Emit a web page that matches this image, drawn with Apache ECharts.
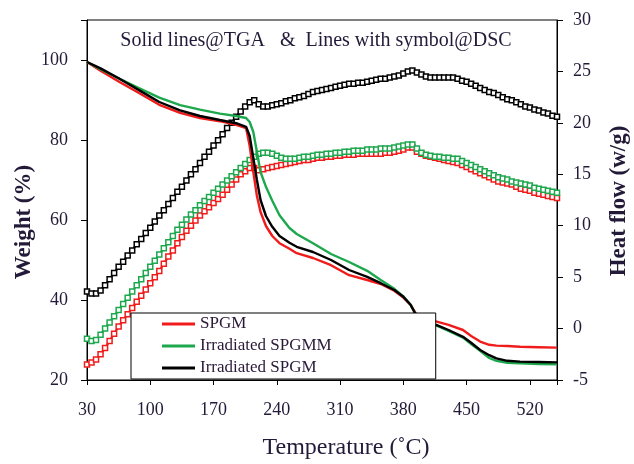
<!DOCTYPE html>
<html>
<head>
<meta charset="utf-8">
<script src="https://cdn.jsdelivr.net/npm/echarts@6/dist/echarts.min.js"></script>
<style>
html,body{margin:0;padding:0;background:#fff;}
#chart{width:634px;height:464px;}
</style>
</head>
<body>
<div id="chart"></div>
<script>
// ---- data ----
var seriesNames = ['SPGM', 'Irradiated SPGMM', 'Irradiated SPGM'];
var xTickLabels = [30, 100, 170, 240, 310, 380, 450, 520];

// TGA (weight %, left axis)
var tgaTemps = [30,45,66,88,110,133,155,177,195,206,210,214,218,222,228,235,243,254,262,280,300,320,340,355,370,380,388,395,405,417,430,446,455,465,475,483,495,509,530,550];
var tgaSPGM = [99.5,97.3,94.5,91.7,88.8,86.8,85.5,84.7,83.8,83,78.5,72,66,62,58.5,56,54.2,52.8,51.7,50.5,48.7,46.2,45,44,42.3,40.6,38.8,36.2,35.2,34.6,33.8,32.5,31,29.6,28.8,28.6,28.5,28.3,28.2,28.1];
var tgaIrrSPGMM = [99.5,97.7,95.3,92.9,90.6,88.7,87.6,86.6,86,85.5,84.5,82,77,72,68.3,64.8,61.2,58,56.5,54.2,51.5,49.5,47.3,45,42.8,40.9,38.8,35.8,34.5,33.6,32.3,30.6,29,27.3,25.5,24.8,24.3,24.2,24,23.9];
var tgaIrrSPGM = [99.5,97.9,95.3,92.4,89.5,87.4,86,85,84.2,83.3,81,75.5,70,65,61,58.3,56,54.3,53.3,52,50,47.5,45.8,44.2,42.5,40.8,38.8,35.8,34.5,33.7,32.5,30.8,29.3,27.5,26.2,25.4,24.8,24.6,24.5,24.4];

// DSC (heat flow w/g, right axis)
var dscTemps = [
 30,35,40,45,50,55,60,65,70,75,
 80,85,90,95,100,105,110,115,120,125,
 130,135,140,145,150,155,160,165,170,175,
 180,185,190,195,200,205,210,215,220,225,
 230,235,240,245,250,255,260,265,270,275,
 280,285,290,295,300,305,310,315,320,325,
 330,335,340,345,350,355,360,365,370,375,
 380,385,390,395,400,405,410,415,420,425,
 430,435,440,445,450,455,460,465,470,475,
 480,485,490,495,500,505,510,515,520,525,
 530,535,540,545,550];
var dscSPGM = [
 -3.5,-3.3,-3.0,-2.5,-1.9,-1.2,-0.5,0.2,0.8,1.4,
 2.0,2.6,3.2,3.8,4.4,5.0,5.6,6.3,7.0,7.6,
 8.3,8.9,9.5,10.0,10.5,11.0,11.4,11.8,12.2,12.6,
 13.0,13.5,14.0,14.5,15.0,15.3,15.6,15.6,15.4,15.5,
 15.6,15.7,15.8,15.9,16.0,16.1,16.2,16.3,16.4,16.4,
 16.5,16.6,16.6,16.7,16.7,16.8,16.8,16.9,16.9,16.9,
 17.0,17.0,17.0,17.0,17.0,17.0,17.1,17.1,17.2,17.3,
 17.4,17.6,17.6,17.2,17.0,16.8,16.7,16.6,16.5,16.4,
 16.3,16.2,16.1,15.9,15.7,15.5,15.3,15.1,14.9,14.7,
 14.5,14.3,14.2,14.1,14.0,13.8,13.6,13.5,13.4,13.2,
 13.1,13.0,12.9,12.8,12.7];
var dscIrrSPGMM = [
 -1.0,-1.2,-1.1,-0.6,0.0,0.6,1.2,1.8,2.4,3.0,
 3.6,4.2,4.8,5.4,6.0,6.6,7.2,7.8,8.4,9.0,
 9.6,10.1,10.6,11.1,11.5,12.0,12.4,12.8,13.2,13.6,
 14.0,14.4,14.8,15.2,15.6,16.0,16.4,16.7,17.0,17.1,
 17.1,17.0,16.8,16.6,16.5,16.5,16.5,16.6,16.7,16.7,
 16.8,16.9,16.9,17.0,17.0,17.1,17.1,17.2,17.2,17.3,
 17.3,17.3,17.4,17.4,17.4,17.5,17.5,17.5,17.6,17.7,
 17.8,17.9,17.9,17.5,17.1,16.9,16.8,16.7,16.7,16.6,
 16.6,16.5,16.5,16.3,16.1,15.9,15.7,15.5,15.3,15.1,
 14.9,14.7,14.6,14.5,14.3,14.2,14.1,14.0,13.9,13.7,
 13.6,13.5,13.4,13.3,13.2];
var dscIrrSPGM = [
 3.6,3.4,3.4,3.7,4.2,4.8,5.4,6.0,6.5,7.1,
 7.6,8.2,8.7,9.3,9.8,10.4,11.0,11.5,12.1,12.7,
 13.3,13.8,14.4,15.0,15.5,16.1,16.7,17.2,17.8,18.3,
 18.9,19.5,20.0,20.6,21.1,21.6,22.0,22.2,21.8,21.6,
 21.6,21.7,21.8,21.9,22.1,22.2,22.4,22.5,22.6,22.8,
 23.0,23.1,23.2,23.3,23.4,23.5,23.6,23.7,23.8,23.8,
 23.9,23.9,24.0,24.1,24.2,24.3,24.3,24.4,24.5,24.6,
 24.8,25.0,25.1,24.9,24.7,24.5,24.4,24.4,24.4,24.4,
 24.4,24.4,24.3,24.1,24.0,23.8,23.6,23.4,23.2,23.0,
 22.9,22.7,22.5,22.3,22.2,22.0,21.8,21.6,21.5,21.3,
 21.2,21.0,20.9,20.7,20.6];

// ---- build ----
var X0 = 30;           // axis origin temperature (ticks counted from here)
var XMAX = 550;
var colors = ['#f01c1c', '#1ea84e', '#000000'];
var textColor = '#221a38';
var serif = '"Liberation Serif", "Times New Roman", serif';

function pairs(xs, ys) { return xs.map(function (t, i) { return [t - X0, ys[i]]; }); }

var tgaSets = [tgaSPGM, tgaIrrSPGMM, tgaIrrSPGM];
var dscSets = [dscSPGM, dscIrrSPGMM, dscIrrSPGM];
var series = [];
dscSets.forEach(function (d, i) {
  series.push({
    name: seriesNames[i] + ' (DSC)', type: 'line', yAxisIndex: 1,
    data: pairs(dscTemps, d), symbol: 'rect', symbolSize: 5, showAllSymbol: true,
    lineStyle: { color: colors[i], width: 2.2 },
    itemStyle: { color: '#ffffff', borderColor: colors[i], borderWidth: 1.5 },
    animation: false, z: 2
  });
});
tgaSets.forEach(function (d, i) {
  series.push({
    name: seriesNames[i], type: 'line', yAxisIndex: 0,
    data: pairs(tgaTemps, d), showSymbol: false, symbol: 'none',
    lineStyle: { color: colors[i], width: 2.4 },
    itemStyle: { color: colors[i] },
    animation: false, z: 3
  });
});

var chart = echarts.init(document.getElementById('chart'), null, { renderer: 'canvas' });
chart.setOption({
  animation: false,
  backgroundColor: '#ffffff',
  grid: { left: 87, right: 77, top: 20, bottom: 84, show: true, borderColor: '#000', borderWidth: 1, backgroundColor: 'transparent' },
  legend: {
    data: seriesNames, orient: 'vertical', left: 131, top: 313,
    icon: 'rect', itemWidth: 33, itemHeight: 3, itemGap: 4,
    padding: [2, 104, 2, 31],
    backgroundColor: '#ffffff', borderColor: '#000', borderWidth: 1,
    textStyle: { fontFamily: serif, fontSize: 17, color: '#2a1838', lineHeight: 18 },
    selectedMode: false
  },
  xAxis: {
    type: 'value', min: 0, max: XMAX - X0, interval: 70,
    axisLine: { show: true, onZero: false, lineStyle: { color: '#000', width: 1 } },
    axisTick: { show: true, length: 5, lineStyle: { color: '#000' } },
    axisLabel: {
      margin: 21, fontFamily: serif, fontSize: 18, color: textColor,
      formatter: function (v) { var t = v + X0; return xTickLabels.indexOf(t) >= 0 ? String(t) : ''; }
    },
    splitLine: { show: false }
  },
  yAxis: [{
    type: 'value', min: 20, max: 110, interval: 20, position: 'left',
    axisLine: { show: true, lineStyle: { color: '#000', width: 1 } },
    axisTick: { show: true, length: 6, lineStyle: { color: '#000' } },
    axisLabel: { margin: 19, fontFamily: serif, fontSize: 18, color: textColor,
      formatter: function (v) { return v > 100 ? '' : String(v); } },
    splitLine: { show: false }
  }, {
    type: 'value', min: -5, max: 30, interval: 5, position: 'right',
    axisLine: { show: true, lineStyle: { color: '#000', width: 1 } },
    axisTick: { show: true, length: 6, lineStyle: { color: '#000' } },
    axisLabel: { margin: 16, fontFamily: serif, fontSize: 18, color: textColor },
    splitLine: { show: false }
  }],
  graphic: [
    { type: 'text', x: 316, y: 41, style: { text: 'Solid lines@TGA   &  Lines with symbol@DSC', font: '20px ' + serif, fill: textColor, textAlign: 'center', textVerticalAlign: 'middle' } },
    { type: 'text', x: 24, y: 222, rotation: Math.PI / 2, style: { text: 'Weight (%)', font: 'bold 23px ' + serif, fill: textColor, textAlign: 'center', textVerticalAlign: 'middle' } },
    { type: 'text', x: 619, y: 201, rotation: Math.PI / 2, style: { text: 'Heat flow (w/g)', font: 'bold 23px ' + serif, fill: textColor, textAlign: 'center', textVerticalAlign: 'middle' } },
    { type: 'text', x: 346, y: 448, style: { text: 'Temperature (˚C)', font: '24px ' + serif, fill: textColor, textAlign: 'center', textVerticalAlign: 'middle' } }
  ],
  series: series
});
</script>
</body>
</html>
